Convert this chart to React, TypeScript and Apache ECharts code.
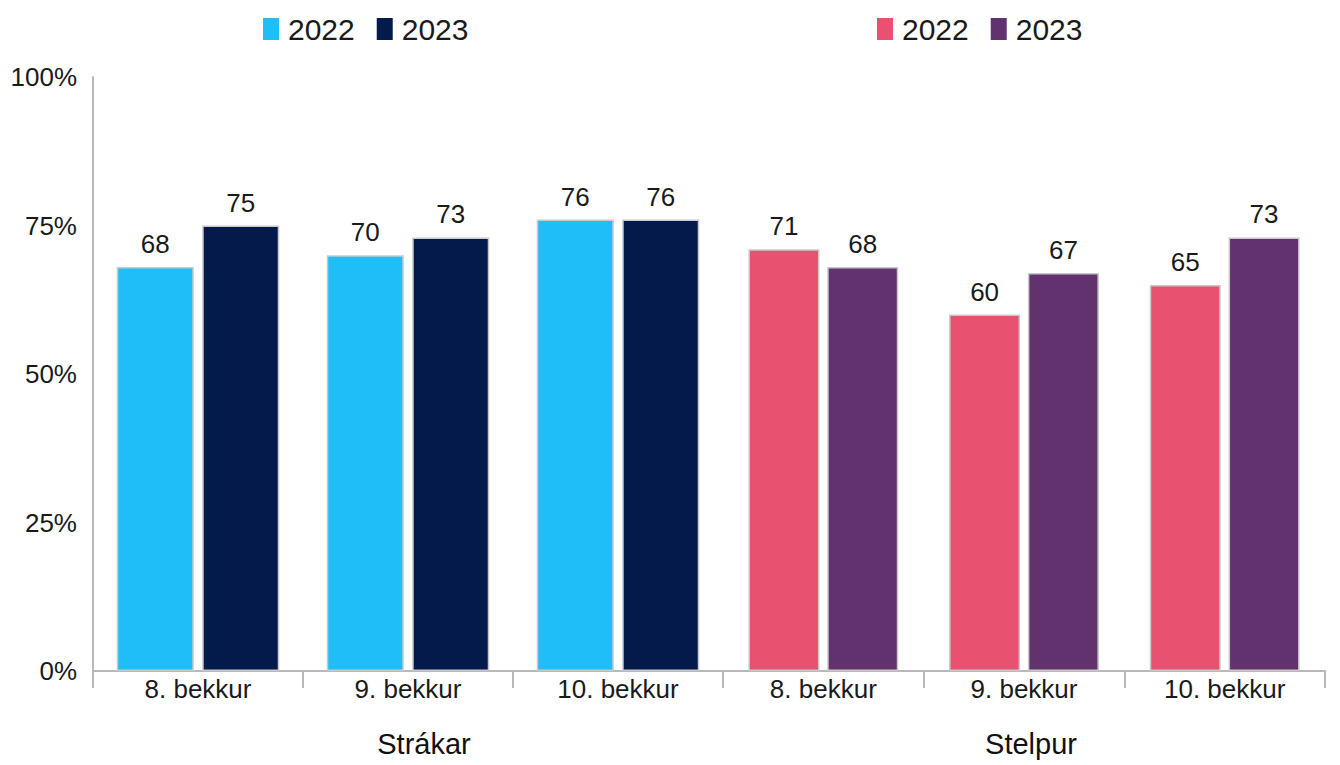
import React, { useEffect, useRef } from "react";
import * as echarts from "echarts";

const categories = ["8. bekkur", "9. bekkur", "10. bekkur"];
const groups = ["Strákar", "Stelpur"];
const years = ["2022", "2023"];
const boys2022 = [68, 70, 76];
const boys2023 = [75, 73, 76];
const girls2022 = [71, 60, 65];
const girls2023 = [68, 67, 73];
const yTicks = [0, 25, 50, 75, 100];

const FONT = "'Liberation Sans', Arial, sans-serif";
const AXIS = "#b9b9b9";
const TEXT = "#1a1a1a";

export default function App() {
  const ref = useRef<HTMLDivElement>(null);
  useEffect(() => {
    if (!ref.current) return;
    const chart = echarts.init(ref.current, null, { renderer: "svg" });
    const label = {
      show: true,
      position: "top",
      distance: 10,
      fontSize: 26,
      color: TEXT,
      fontFamily: FONT,
    };
    const mk = (name: string, data: number[], color: string, idx: number, bw: number) => ({
      name,
      type: "bar",
      xAxisIndex: idx,
      yAxisIndex: idx,
      data,
      barWidth: bw,
      barGap: "11%",
      itemStyle: { color, borderColor: "#c9c9c9", borderWidth: 1.5 },
      label,
    });
    const xAxisBase = (gi: number) => ({
      type: "category",
      gridIndex: gi,
      data: categories,
      axisLine: { show: true, lineStyle: { color: AXIS, width: 2 } },
      axisTick: { show: true, length: 17, lineStyle: { color: AXIS, width: 2 } },
      axisLabel: { fontSize: 26, color: TEXT, fontFamily: FONT, margin: 5 },
    });
    const yAxisBase = (gi: number, show: boolean) => ({
      type: "value",
      gridIndex: gi,
      min: 0,
      max: 100,
      interval: 25,
      show,
      splitLine: { show: false },
      axisLine: { show: true, lineStyle: { color: AXIS, width: 2 } },
      axisTick: { show: false },
      axisLabel: {
        fontSize: 26,
        color: TEXT,
        fontFamily: FONT,
        margin: 16,
        formatter: (v: number) => (yTicks.includes(v) ? `${v}%` : ""),
      },
    });
    const legendBase = {
      icon: "rect",
      itemWidth: 16,
      itemHeight: 22,
      itemGap: 22,
      top: 9,
      textStyle: { fontSize: 30, color: TEXT, fontFamily: FONT, padding: [0, 0, 0, 4] },
      itemStyle: { borderWidth: 0 },
      formatter: (n: string) => n.split(" ")[1],
      selectedMode: false,
    };
    chart.setOption({
      animation: false,
      backgroundColor: "#ffffff",
      grid: [
        { left: 93, right: 617, top: 77, bottom: 94 },
        { left: 723, right: 15, top: 77, bottom: 94 },
      ],
      legend: [
        { ...legendBase, left: 258, data: years.map((y) => `${groups[0]} ${y}`) },
        { ...legendBase, left: 872, data: years.map((y) => `${groups[1]} ${y}`) },
      ],
      xAxis: [xAxisBase(0), xAxisBase(1)],
      yAxis: [yAxisBase(0, true), yAxisBase(1, false)],
      series: [
        mk(`${groups[0]} ${years[0]}`, boys2022, "#20BEF8", 0, 77),
        mk(`${groups[0]} ${years[1]}`, boys2023, "#031A4B", 0, 77),
        mk(`${groups[1]} ${years[0]}`, girls2022, "#E8516F", 1, 71),
        mk(`${groups[1]} ${years[1]}`, girls2023, "#61326D", 1, 71),
      ],
      graphic: [
        {
          type: "text",
          x: 424,
          y: 744,
          style: { text: groups[0], fontSize: 29, fill: "#111", fontFamily: FONT, align: "center", verticalAlign: "middle" },
        },
        {
          type: "text",
          x: 1031,
          y: 744,
          style: { text: groups[1], fontSize: 29, fill: "#111", fontFamily: FONT, align: "center", verticalAlign: "middle" },
        },
      ],
    });
    return () => chart.dispose();
  }, []);
  return (
    <div
      ref={ref}
      style={{ position: "fixed", left: 0, top: 0, width: 1340, height: 765, background: "#fff" }}
    />
  );
}
